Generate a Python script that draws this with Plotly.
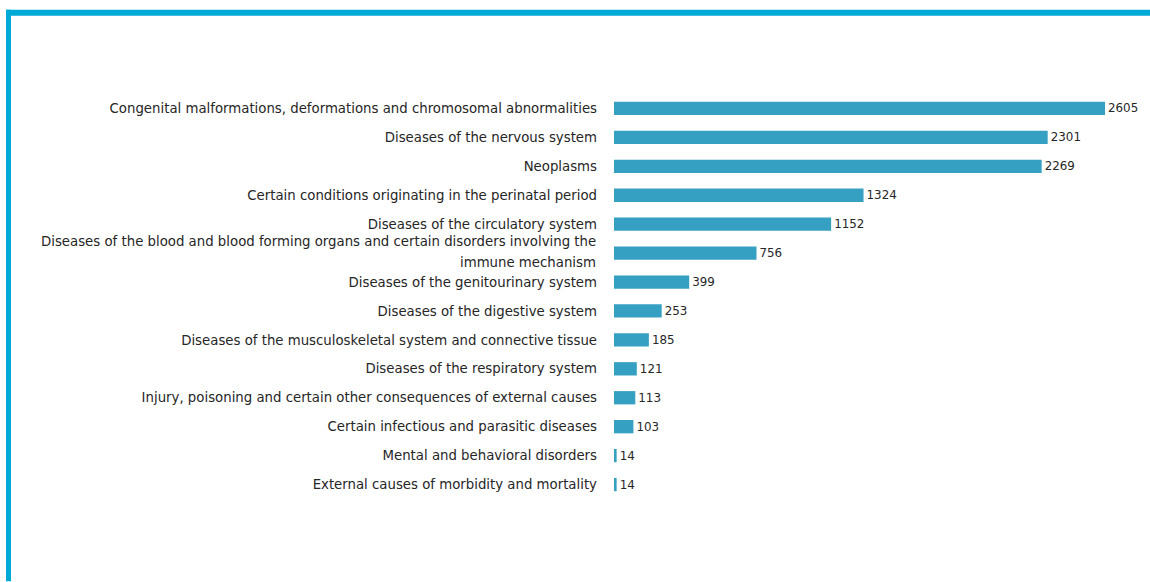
import plotly.graph_objects as go

categories = [
    "Congenital malformations, deformations and chromosomal abnormalities",
    "Diseases of the nervous system",
    "Neoplasms",
    "Certain conditions originating in the perinatal period",
    "Diseases of the circulatory system",
    "Diseases of the blood and blood forming organs and certain disorders involving the<br>immune mechanism",
    "Diseases of the genitourinary system",
    "Diseases of the digestive system",
    "Diseases of the musculoskeletal system and connective tissue",
    "Diseases of the respiratory system",
    "Injury, poisoning and certain other consequences of external causes",
    "Certain infectious and parasitic diseases",
    "Mental and behavioral disorders",
    "External causes of morbidity and mortality",
]
values = [2605, 2301, 2269, 1324, 1152, 756, 399, 253, 185, 121, 113, 103, 14, 14]

W, H = 1150, 582
L, R, T, B = 614, 5, 93.5, 82.5
pw = W - L - R
ph = H - T - B
px_per_unit = (1105 - 614) / 2605.0
xmax = pw / px_per_unit
FONT = "DejaVu Sans"
FS = 13.3
TXT = "#262626"

ypos = list(range(len(categories)))
ticktext = [c if "<br>" not in c else "" for c in categories]

fig = go.Figure()
fig.add_trace(go.Bar(
    x=values,
    y=ypos,
    orientation="h",
    width=0.46,
    marker=dict(color="#36a0c2", line=dict(width=0)),
    text=[str(v) for v in values],
    textposition="outside",
    cliponaxis=False,
    textfont=dict(family=FONT, size=13.4, color=TXT),
    hoverinfo="skip",
))

fig.update_layout(
    width=W, height=H,
    margin=dict(l=L, r=R, t=T, b=B, autoexpand=False),
    paper_bgcolor="white", plot_bgcolor="white",
    showlegend=False,
    font=dict(family=FONT, size=FS, color=TXT),
    xaxis=dict(range=[0, xmax], visible=False, fixedrange=True),
    yaxis=dict(
        range=[len(categories) - 0.5, -0.5],
        tickmode="array",
        tickvals=ypos,
        ticktext=ticktext,
        showgrid=False, zeroline=False, showline=False,
        ticks="", ticklabelstandoff=16,
        automargin=False, fixedrange=True,
        tickfont=dict(family=FONT, size=FS, color=TXT),
    ),
)

for i, c in enumerate(categories):
    if "<br>" in c:
        parts = c.split("<br>")
        fig.add_annotation(xref="paper", yref="y", x=(598 - L) / pw, y=i,
                           text=parts[0], showarrow=False, xanchor="right",
                           yanchor="middle", yshift=12,
                           font=dict(family=FONT, size=FS, color=TXT))
        fig.add_annotation(xref="paper", yref="y", x=(598 - L) / pw, y=i,
                           text=parts[1], showarrow=False, xanchor="right",
                           yanchor="middle", yshift=-9,
                           font=dict(family=FONT, size=FS, color=TXT))

def px_to_paper_x(px):
    return (px - L) / pw

def px_to_paper_y(py):
    return 1 - (py - T) / ph

border = "#00a9d6"
fig.add_shape(type="rect", xref="paper", yref="paper",
              x0=px_to_paper_x(6), x1=px_to_paper_x(1150),
              y0=px_to_paper_y(15), y1=px_to_paper_y(9),
              fillcolor=border, line=dict(width=0), layer="above")
fig.add_shape(type="rect", xref="paper", yref="paper",
              x0=px_to_paper_x(6), x1=px_to_paper_x(11),
              y0=px_to_paper_y(582), y1=px_to_paper_y(9),
              fillcolor=border, line=dict(width=0), layer="above")

fig.write_html("out.html",
               config={"displayModeBar": False},
               post_script="document.body.style.margin='0';document.body.style.overflow='hidden';")
